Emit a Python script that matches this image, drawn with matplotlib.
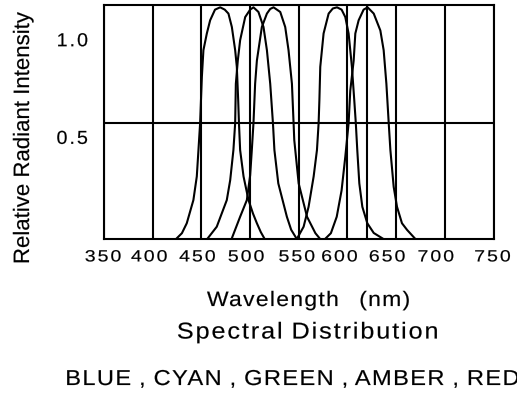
import numpy as np
import matplotlib
matplotlib.use("Agg")
import matplotlib.pyplot as plt
import matplotlib.patheffects as pe
import matplotlib.transforms as mtransforms
from matplotlib.path import Path

# ---------------- data ----------------
blue_wl = [424, 430, 435, 441.8, 445.3, 447, 448.7, 450.5, 452.1, 455.6, 459, 464, 469.3,
           474, 477.8, 481.3, 484.7, 486.4, 487.8, 488.6, 489.8, 493.3, 498.4, 503, 507, 511, 515]
blue_val = [0, 0.025, 0.068, 0.168, 0.27, 0.384, 0.5, 0.70, 0.815, 0.887, 0.944, 0.99, 1.0,
            0.99, 0.973, 0.915, 0.815, 0.743, 0.6, 0.5, 0.384, 0.27, 0.168, 0.11, 0.068, 0.03, 0]

cyan_wl = [456, 465.8, 470.9, 476.1, 479.6, 482.9, 484.7, 485.4, 487.4, 489.8, 495, 500.1, 503.5,
           508.6, 513.8, 517.3, 520.7, 523.5, 525, 529, 537.8, 542.2, 548]
cyan_val = [0, 0.053, 0.11, 0.168, 0.254, 0.384, 0.5, 0.67, 0.77, 0.858, 0.958, 0.99, 1.0,
            0.98, 0.915, 0.815, 0.67, 0.5, 0.384, 0.24, 0.096, 0.04, 0]

green_wl = [481, 489.8, 496.7, 500.1, 501.8, 503.5, 505.2, 507, 512.1, 517.3, 520.7, 524.1,
            531, 536.1, 539.5, 543, 544.7, 545.4, 549.9, 558.5, 567.1, 572]
green_val = [0, 0.096, 0.168, 0.275, 0.384, 0.5, 0.67, 0.77, 0.915, 0.973, 0.993, 1.0,
             0.98, 0.915, 0.815, 0.67, 0.5, 0.427, 0.24, 0.096, 0.025, 0]

amber_wl = [548, 555, 560.1, 565.3, 568.7, 570.4, 571.2, 572.1, 575.5, 580.7, 585, 589.3,
            594, 597.8, 601.2, 604.6, 607, 608.6, 610.1, 612.2, 615.3, 620.4, 627, 637]
amber_val = [0, 0.053, 0.139, 0.27, 0.384, 0.5, 0.6, 0.743, 0.887, 0.973, 0.995, 1.0,
             0.99, 0.958, 0.887, 0.743, 0.6, 0.5, 0.384, 0.24, 0.139, 0.068, 0.026, 0]

red_wl = [577, 583, 589, 594, 597.8, 601.2, 602.9, 606.4, 608.1, 611.5, 616.6, 620.7,
          627, 633.8, 637.2, 640, 642.4, 644.1, 647.5, 650.9, 656, 661.3, 669.8]
red_val = [0, 0.025, 0.096, 0.21, 0.355, 0.5, 0.64, 0.77, 0.887, 0.944, 0.99, 1.0,
           0.973, 0.9, 0.815, 0.67, 0.5, 0.384, 0.225, 0.139, 0.068, 0.039, 0]

x_ticks = [350, 400, 450, 500, 550, 600, 650, 700, 750]
x_tick_labels = ["350", "400", "450", "500", "550", "600", "650", "700", "750"]
y_ticks = [0.5, 1.0]
y_tick_labels = ["0.5", "1.0"]
peak_marker_wl = [620]

x_label = "Wavelength   (nm)"
y_label = "Relative Radiant Intensity"
title_text = "Spectral Distribution"
colors_text = "BLUE , CYAN , GREEN , AMBER , RED"


# ---------------- wide-text path effect (stretch + letter spacing + weight) ----------------
class WideText(pe.AbstractPathEffect):
    def __init__(self, stretch=1.0, spacing_px=0.0, align="center", weight_pt=0.12):
        super().__init__()
        self._sx = stretch
        self._sp = spacing_px
        self._align = align
        self._w = weight_pt

    def draw_path(self, renderer, gc, tpath, affine, rgbFace=None):
        verts = np.array(tpath.vertices, dtype=float)
        codes = tpath.codes
        gc0 = renderer.new_gc()
        gc0.copy_properties(gc)
        gc0.set_linewidth(self._w)
        if codes is None or len(verts) == 0:
            renderer.draw_path(gc0, tpath, affine, rgbFace)
            gc0.restore()
            return
        m = affine.get_matrix()
        scale = np.sqrt(abs(m[0, 0] * m[1, 1] - m[0, 1] * m[1, 0]))
        sp = self._sp / scale if scale > 0 else 0.0
        real = (codes != Path.CLOSEPOLY) & (codes != Path.STOP)
        lo_all, hi_all = verts[real, 0].min(), verts[real, 0].max()
        anchor = {"center": 0.5 * (lo_all + hi_all), "left": lo_all, "right": hi_all}[self._align]
        starts = np.flatnonzero(codes == Path.MOVETO)
        ends = list(starts[1:]) + [len(codes)]
        groups = []
        gid = -1
        gmin = gmax = 0.0
        for s, e in zip(starts, ends):
            c = codes[s:e]
            mask = (c != Path.CLOSEPOLY) & (c != Path.STOP)
            xs = verts[s:e][mask, 0]
            if len(xs) == 0:
                groups.append((s, e, max(gid, 0)))
                continue
            lo, hi = xs.min(), xs.max()
            cen = 0.5 * (lo + hi)
            if gid >= 0 and gmin <= cen <= gmax:
                gmax = max(gmax, hi)
                gmin = min(gmin, lo)
            else:
                gid += 1
                gmin, gmax = lo, hi
            groups.append((s, e, gid))
        n = gid + 1
        off = {"center": (n - 1) / 2.0, "left": 0.0, "right": float(n - 1)}[self._align]
        verts[:, 0] = anchor + self._sx * (verts[:, 0] - anchor)
        for s, e, g in groups:
            verts[s:e, 0] += sp * (g - off)
        renderer.draw_path(gc0, Path(verts, codes), affine, rgbFace)
        gc0.restore()


plt.rcParams["font.family"] = ["Liberation Sans", "DejaVu Sans"]

W, H = 517, 396
fig = plt.figure(figsize=(W / 100, H / 100), dpi=100)
ax = fig.add_axes([104 / W, 1 - 239 / H, 389.5 / W, 234 / H])

lw = 1.5
for wl, val in [(blue_wl, blue_val), (cyan_wl, cyan_val), (green_wl, green_val),
                (amber_wl, amber_val), (red_wl, red_val)]:
    ax.plot(wl, val, color="black", lw=lw, solid_joinstyle="round", zorder=3)

ax.set_xlim(350, 750)
ax.set_ylim(0, 1.01)

ax.set_xticks(x_ticks, x_tick_labels)
ax.set_yticks(y_ticks, y_tick_labels)
ax.grid(axis="x", color="black", lw=lw)
ax.axhline(y_ticks[0], color="black", lw=lw)
for wl in peak_marker_wl:
    ax.axvline(wl, color="black", lw=lw)

for sp in ax.spines.values():
    sp.set_linewidth(lw)
    sp.set_color("black")

ax.tick_params(axis="x", length=0, pad=7.5, labelsize=11.7)
ax.tick_params(axis="y", length=0, pad=11.5, labelsize=13.5)

# the original prints its tick labels slightly off their lines
x_shift_px = [-1, -3.5, -4, -4, -2, -8, -9, -9, -1]
for lab, dx in zip(ax.get_xticklabels(), x_shift_px):
    lab.set_transform(lab.get_transform() +
                      mtransforms.ScaledTranslation(dx / 100, 0, fig.dpi_scale_trans))
    lab.set_path_effects([WideText(1.2, 2.0, "center")])

y_shift_px = [-14.2, -32.4]
for lab, dy in zip(ax.get_yticklabels(), y_shift_px):
    lab.set_transform(lab.get_transform() +
                      mtransforms.ScaledTranslation(0, dy / 100, fig.dpi_scale_trans))
    lab.set_path_effects([WideText(1.05, 2.0, "right")])

ax.set_xlabel(x_label, fontsize=15, va="baseline", path_effects=[WideText(1.1, 1.3)])
ax.xaxis.set_label_coords((309 - 104) / 389.5, (239 - 306) / 234)

ax.set_ylabel(y_label, fontsize=16, va="center", path_effects=[WideText(1.0, 0.0)])
ax.yaxis.set_label_coords((23.5 - 104) / 389.5, (239 - 137.5) / 234)

fig.text(307.5 / W, 1 - 338.5 / H, title_text, fontsize=16.5, ha="center",
         va="baseline", path_effects=[WideText(1.1, 1.9)])
fig.text(291.7 / W, 1 - 385 / H, colors_text, fontsize=15.5, ha="center",
         va="baseline", path_effects=[WideText(1.1, 1.35)])

fig.savefig("out.png", dpi=100)
